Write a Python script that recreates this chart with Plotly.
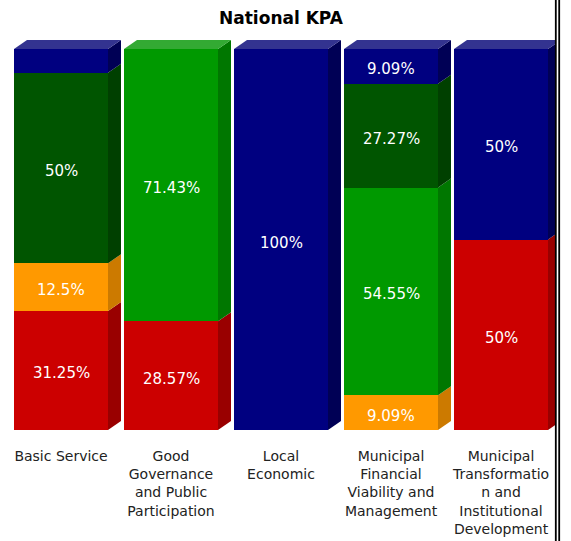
import plotly.graph_objects as go

categories = ["Basic Service", "Good Governance and Public Participation", "Local Economic",
              "Municipal Financial Viability and Management",
              "Municipal Transformation and Institutional Development"]
tick_labels = ["Basic Service", "Good<br>Governance<br>and Public<br>Participation", "Local<br>Economic",
               "Municipal<br>Financial<br>Viability and<br>Management",
               "Municipal<br>Transformatio<br>n and<br>Institutional<br>Development"]

red_vals = [31.25, 28.57, 0, 0, 50]
orange_vals = [12.5, 0, 0, 9.09, 0]
green_vals = [0, 71.43, 0, 54.55, 0]
darkgreen_vals = [50, 0, 0, 27.27, 0]
navy_vals = [6.25, 0, 100, 9.09, 50]

red_labels = ["31.25%", "28.57%", "", "", "50%"]
orange_labels = ["12.5%", "", "", "9.09%", ""]
green_labels = ["", "71.43%", "", "54.55%", ""]
darkgreen_labels = ["50%", "", "", "27.27%", ""]
navy_labels = ["", "", "100%", "9.09%", "50%"]

series = [
    ("Red", red_vals, red_labels, "#CC0000", "#990000", "#DD4444"),
    ("Orange", orange_vals, orange_labels, "#FF9900", "#CC7A00", "#FFB040"),
    ("Green", green_vals, green_labels, "#009900", "#007700", "#33AA33"),
    ("Dark Green", darkgreen_vals, darkgreen_labels, "#005500", "#004000", "#337733"),
    ("Navy", navy_vals, navy_labels, "#000080", "#000055", "#333390"),
]

W, H = 571, 541
ML, MR, MT, MB = 6, 15, 40, 111
plot_w = W - ML - MR
plot_h = H - MT - MB
px_per_cat = plot_w / 5
bar_w = 94 / px_per_cat
depth_px_x, depth_px_y = 13, 9
y_top = plot_h / 3.81
dx = depth_px_x / px_per_cat
dy = depth_px_y * y_top / plot_h

xs = list(range(len(categories)))
fig = go.Figure()
shapes = []
annotations = []
cum = [0.0] * len(xs)
top_info = [None] * len(xs)
for name, vals, labels, col, side, top in series:
    fig.add_trace(go.Bar(
        x=xs, y=vals, name=name, width=bar_w, marker=dict(color=col, line=dict(width=0)),
        hoverinfo="skip"))
    for i, v in enumerate(vals):
        if v <= 0:
            continue
        y0, y1 = cum[i], cum[i] + v
        xr = i + bar_w / 2
        shapes.append(dict(type="path", xref="x", yref="y", layer="above",
                           path=f"M {xr},{y0} L {xr+dx},{y0+dy} L {xr+dx},{y1+dy} L {xr},{y1} Z",
                           fillcolor=side, line=dict(width=0)))
        if labels[i]:
            annotations.append(dict(x=i, y=(y0 + y1) / 2, xref="x", yref="y", text=labels[i],
                                    showarrow=False, yshift=-3,
                                    font=dict(color="white", size=15, family="DejaVu Sans")))
        cum[i] = y1
        top_info[i] = (y1, top)

for i, info in enumerate(top_info):
    if info is None:
        continue
    yt, tcol = info
    xl, xr = i - bar_w / 2, i + bar_w / 2
    shapes.append(dict(type="path", xref="x", yref="y", layer="above",
                       path=f"M {xl},{yt} L {xl+dx},{yt+dy} L {xr+dx},{yt+dy} L {xr},{yt} Z",
                       fillcolor=tcol, line=dict(width=0)))

def px_to_paper_x(p):
    return (p - ML) / plot_w

def px_to_paper_y(p):
    return (H - MB - p) / plot_h

for lx in (555.8, 559.2):
    shapes.append(dict(type="line", xref="paper", yref="paper",
                       x0=px_to_paper_x(lx), x1=px_to_paper_x(lx),
                       y0=px_to_paper_y(0), y1=px_to_paper_y(H),
                       line=dict(color="black", width=1.8)))

fig.update_layout(
    barmode="stack", width=W, height=H, showlegend=False,
    margin=dict(l=ML, r=MR, t=MT, b=MB, autoexpand=False),
    paper_bgcolor="white", plot_bgcolor="white",
    title=dict(text="<b>National KPA</b>", x=0.5, xref="paper", y=1 - 18 / H, yref="container",
               yanchor="middle", font=dict(family="DejaVu Sans", size=17, color="black")),
    xaxis=dict(range=[-0.5, 4.5], tickvals=xs, ticktext=tick_labels, showgrid=False,
               showline=False, zeroline=False, ticks="", ticklabelstandoff=16, automargin=False,
               tickfont=dict(family="DejaVu Sans", size=14, color="#222222")),
    yaxis=dict(range=[0, y_top], visible=False, showgrid=False, zeroline=False, automargin=False),
    shapes=shapes,
    annotations=annotations,
)
fig.write_html("out.html", config={"displayModeBar": False},
               post_script="document.body.style.margin='0';document.body.style.overflow='hidden';")
